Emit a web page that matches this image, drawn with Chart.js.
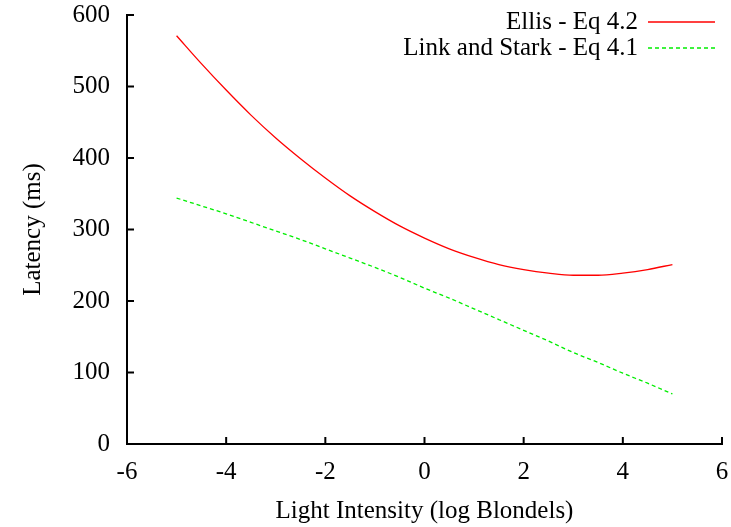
<!DOCTYPE html>
<html>
<head>
<meta charset="utf-8">
<script src="https://cdn.jsdelivr.net/npm/chart.js@4.4.1/dist/chart.umd.min.js"></script>
<style>
  html, body { margin: 0; padding: 0; background: #fff; }
  #wrap { width: 731px; height: 527px; }
</style>
</head>
<body>
<div id="wrap"><canvas id="latencyChart" width="731" height="527"></canvas></div>
<script>
// data
const intensity = [-5, -4.5, -4, -3.5, -3, -2.5, -2, -1.5, -1, -0.5, 0, 0.5, 1, 1.5, 2, 2.5, 3, 3.5, 4, 4.5, 5]
const ellisLatency = [571, 532, 495, 460, 428, 399, 372, 347, 325, 305, 288, 273, 261, 251, 244, 239, 236, 236, 239, 244, 251]
const linkStarkLatency = [344, 333, 322, 310, 298, 286, 273, 260, 247, 233, 218, 204, 189, 174, 159, 144, 128, 114, 99, 85, 70]
const seriesNames = ['Ellis - Eq 4.2', 'Link and Stark - Eq 4.1']
const xTicks = [-6, -4, -2, 0, 2, 4, 6]
const yTicks = [0, 100, 200, 300, 400, 500, 600]

const fontFamily = '"Liberation Serif", "DejaVu Serif", serif'

function toPoints(ys) {
    return intensity.map(function (x, i) { return { x: x, y: ys[i] } })
}

// gnuplot style inward tick marks + legend with text left of the sample line
const gnuplotBits = {
    id: 'gnuplotBits',
    afterDraw: function (chart) {
        const ctx = chart.ctx
        const xs = chart.scales.x
        const ys = chart.scales.y
        const area = chart.chartArea
        ctx.save()
        ctx.strokeStyle = '#000'
        ctx.lineWidth = 2
        ctx.beginPath()
        xTicks.forEach(function (v) {
            const px = xs.getPixelForValue(v)
            ctx.moveTo(px, area.bottom)
            ctx.lineTo(px, area.bottom - 7)
        })
        yTicks.forEach(function (v) {
            const py = ys.getPixelForValue(v)
            ctx.moveTo(area.left, py)
            ctx.lineTo(area.left + 7, py)
        })
        ctx.stroke()

        // legend
        ctx.font = '25px ' + fontFamily
        ctx.fillStyle = '#000'
        ctx.textAlign = 'right'
        ctx.textBaseline = 'middle'
        chart.data.datasets.forEach(function (ds, i) {
            const y = 22 + i * 26
            ctx.fillText(ds.label, 638, y)
            ctx.strokeStyle = ds.borderColor
            ctx.lineWidth = 1.3
            ctx.setLineDash(ds.borderDash || [])
            ctx.beginPath()
            ctx.moveTo(648, y)
            ctx.lineTo(715, y)
            ctx.stroke()
        })
        ctx.restore()
    }
}

const ctx = document.getElementById('latencyChart').getContext('2d')
const latencyChart = new Chart(ctx, {
    type: 'line',
    data: {
        datasets: [{
            label: seriesNames[0],
            data: toPoints(ellisLatency),
            borderColor: '#ff0000',
            borderWidth: 1.3,
            pointRadius: 0,
            cubicInterpolationMode: 'monotone',
            fill: false
        }, {
            label: seriesNames[1],
            data: toPoints(linkStarkLatency),
            borderColor: '#00ee00',
            borderWidth: 1.3,
            borderDash: [4, 3],
            pointRadius: 0,
            cubicInterpolationMode: 'monotone',
            fill: false
        }]
    },
    options: {
        responsive: false,
        animation: false,
        layout: { padding: { top: 15, right: 9, left: 0, bottom: 0 } },
        plugins: {
            legend: { display: false },
            tooltip: { enabled: false }
        },
        scales: {
            x: {
                type: 'linear',
                min: -6,
                max: 6,
                afterBuildTicks: function (scale) {
                    scale.ticks = xTicks.map(function (v) { return { value: v } })
                },
                afterFit: function (scale) {
                    scale.height = 83
                    scale.paddingLeft = 0
                    scale.paddingRight = 0
                },
                grid: { display: false },
                border: { display: true, color: '#000', width: 2 },
                ticks: {
                    color: '#000',
                    padding: 5,
                    maxRotation: 0,
                    font: { family: fontFamily, size: 25 }
                },
                title: {
                    display: true,
                    text: 'Light Intensity (log Blondels)',
                    color: '#000',
                    padding: { top: 8, bottom: 1 },
                    font: { family: fontFamily, size: 25 }
                }
            },
            y: {
                min: 0,
                max: 600,
                afterBuildTicks: function (scale) {
                    scale.ticks = yTicks.map(function (v) { return { value: v } })
                },
                afterFit: function (scale) {
                    scale.width = 127
                    scale.paddingTop = 0
                    scale.paddingBottom = 0
                },
                grid: { display: false },
                border: { display: true, color: '#000', width: 2 },
                ticks: {
                    color: '#000',
                    padding: 9,
                    font: { family: fontFamily, size: 25 }
                },
                title: {
                    display: true,
                    text: 'Latency (ms)',
                    color: '#000',
                    padding: { top: 18 },
                    font: { family: fontFamily, size: 25 }
                }
            }
        }
    },
    plugins: [gnuplotBits]
})
</script>
</body>
</html>
